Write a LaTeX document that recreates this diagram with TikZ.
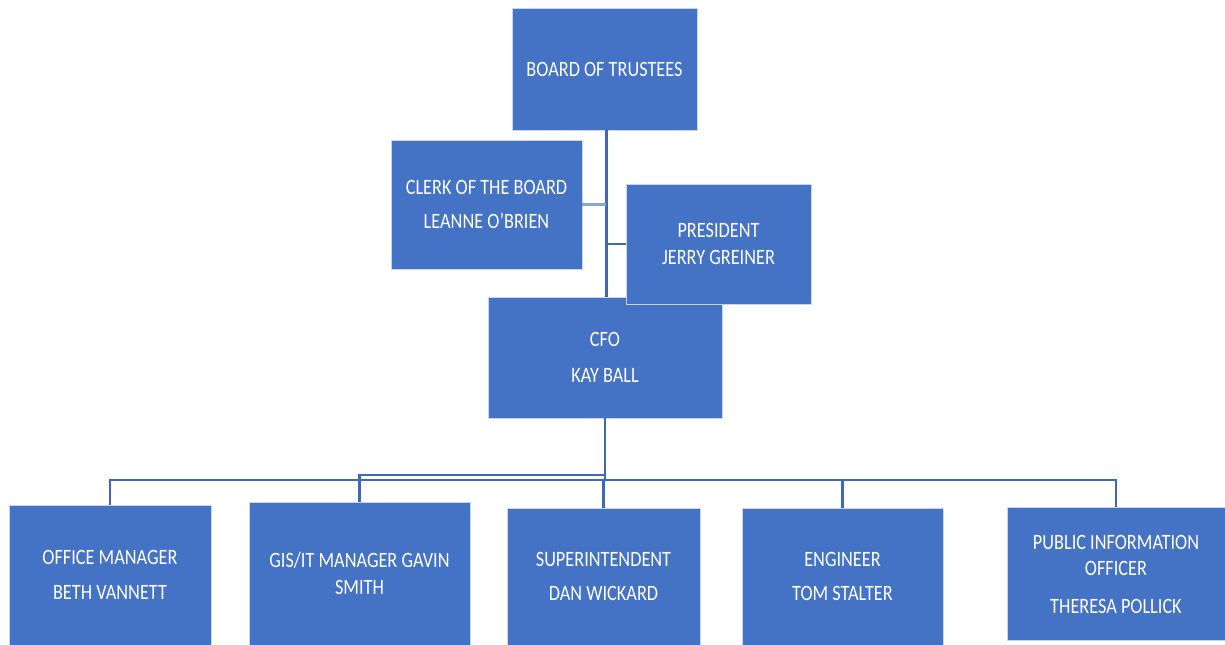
\documentclass[tikz,border=0pt]{standalone}
\usepackage{graphicx}
\usepackage{fontspec}
\setmainfont{Carlito}
\definecolor{boxblue}{HTML}{4472C4}
\definecolor{lineblue}{HTML}{3F68B8}
\definecolor{edgeblue}{HTML}{C9D5EE}
\newcommand{\sline}[1]{\scalebox{1}[1.2]{#1}}
\begin{document}
\begin{tikzpicture}[x=0.75pt,y=-0.75pt,
  orgbox/.style={rectangle,fill=boxblue,draw=edgeblue,line width=0.6pt,
    text=white,align=center,inner sep=0pt,
    font=\fontsize{13.7}{20}\selectfont},
  link/.style={draw=lineblue,line width=2.2pt}]
\useasboundingbox (0,0) rectangle (1225,644);
\fill[white] (0,0) rectangle (1225,644);
% top level
\node[orgbox,minimum width=185*0.75pt,minimum height=122*0.75pt] (board) at (604.5,69) {\sline{BOARD OF TRUSTEES}};
\node[orgbox,minimum width=191*0.75pt,minimum height=129*0.75pt] (clerk) at (486.5,204.5) {\sline{CLERK OF THE BOARD}\\[6pt]\sline{LEANNE O'BRIEN}};
\node[orgbox,minimum width=234*0.75pt,minimum height=121*0.75pt] (cfo) at (605,357.5) {\sline{CFO}\\[7pt]\sline{KAY BALL}};
% bottom level
\node[orgbox,minimum width=202*0.75pt,minimum height=140*0.75pt] (office) at (110,575) {\sline{OFFICE MANAGER}\\[6pt]\sline{BETH VANNETT}};
\node[orgbox,minimum width=221*0.75pt,minimum height=143*0.75pt] (gis) at (359.5,573.5) {\sline{GIS/IT MANAGER GAVIN}\\\sline{SMITH}};
\node[orgbox,minimum width=193*0.75pt,minimum height=137*0.75pt] (super) at (603.5,576.5) {\sline{SUPERINTENDENT}\\[6pt]\sline{DAN WICKARD}};
\node[orgbox,minimum width=201*0.75pt,minimum height=137*0.75pt] (eng) at (842.5,576.5) {\sline{ENGINEER}\\[6pt]\sline{TOM STALTER}};
\node[orgbox,minimum width=218*0.75pt,minimum height=133*0.75pt] (pio) at (1116,574) {\sline{PUBLIC INFORMATION}\\\sline{OFFICER}\\[8pt]\sline{THERESA POLLICK}};
% connectors
\coordinate (spine) at ([xshift=1.2pt]board.south);
\coordinate (bus) at (0,480);
\coordinate (gisbus) at (0,475);
\draw[link] (spine) -- (spine |- cfo.north);
\draw[link,draw=lineblue!60] (clerk.east) -- (clerk.east -| spine);
\draw[link] (cfo.south) -- (cfo.south |- bus);
\draw[link] (office.north) |- (pio.north |- bus) -- (pio.north);
\draw[link] (cfo.south |- gisbus) -| (gis.north);
\draw[link] (super.north |- bus) -- (super.north);
\draw[link] (eng.north |- bus) -- (eng.north);
% president on top
\node[orgbox,minimum width=185*0.75pt,minimum height=120*0.75pt] (pres) at (718.5,244) {\sline{PRESIDENT}\\\sline{JERRY GREINER}};
\draw[link] (pres.west) -- (pres.west -| spine);
\end{tikzpicture}
\end{document}
